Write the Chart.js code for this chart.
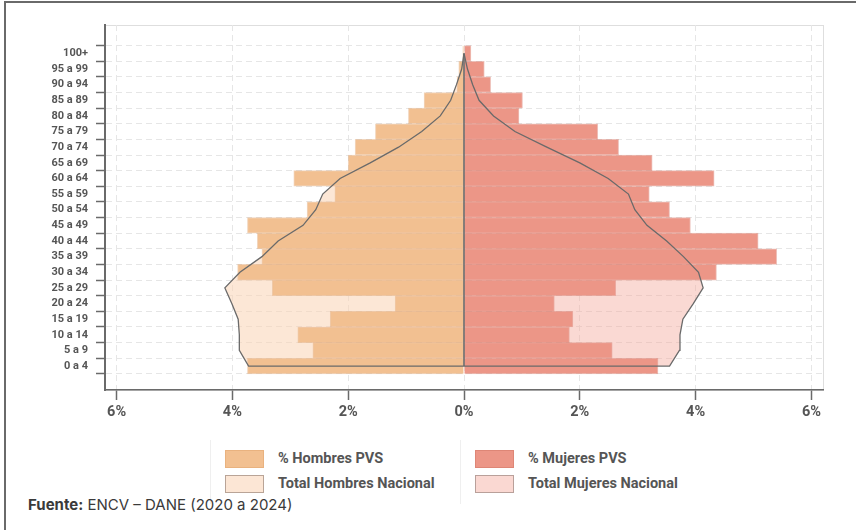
<!DOCTYPE html>
<html lang="es">
<head>
<meta charset="UTF-8">
<title>Pirámide poblacional PVS</title>
<script src="https://cdn.jsdelivr.net/npm/chart.js"></script>
<style>
  body {
    margin: 0;
    width: 856px;
    height: 530px;
    background: #fff;
    position: relative;
    overflow: hidden;
  }

  .marco {
    position: absolute;
    left: 4px;
    top: 1px;
    width: 860px;
    height: 540px;
    border-top: 2px solid #6a6a6a;
    border-left: 2px solid #6a6a6a;
  }

  #piramide {
    position: absolute;
    left: 0;
    top: 0;
  }

  .leyenda {
    position: absolute;
    font-family: 'Roboto', sans-serif;
    font-weight: bold;
    font-size: 14.5px;
    color: #555;
  }

  .item {
    position: absolute;
    white-space: nowrap;
    height: 18px;
    line-height: 18px;
  }

  .caja {
    position: absolute;
    left: 0;
    top: 0;
    width: 37px;
    height: 16px;
    border: 1px solid;
  }

  .item span {
    position: absolute;
    left: 53px;
    top: 0;
  }

  .linea-fina {
    position: absolute;
    width: 1px;
    height: 64px;
    top: 440px;
    background: #efefef;
  }

  .fuente {
    position: absolute;
    left: 28px;
    top: 496px;
    font-family: 'Inter', 'Open Sans', sans-serif;
    font-size: 15px;
    line-height: 18px;
    color: #3a3a3a;
  }
</style>
</head>
<body>
  <div class="marco"></div>
  <canvas id="piramide" width="856" height="440"></canvas>

  <div class="linea-fina" style="left: 210px;"></div>
  <div class="linea-fina" style="left: 460px;"></div>
  <div class="leyenda" id="leyenda"></div>

  <div class="fuente"><b>Fuente:</b> ENCV – DANE (2020 a 2024)</div>

<script>
  // grupos de edad, de abajo hacia arriba
  const gruposEdad = ['0 a 4', '5 a 9', '10 a 14', '15 a 19', '20 a 24', '25 a 29', '30 a 34',
    '35 a 39', '40 a 44', '45 a 49', '50 a 54', '55 a 59', '60 a 64', '65 a 69', '70 a 74',
    '75 a 79', '80 a 84', '85 a 89', '90 a 94', '95 a 99', '100+'];

  // % población PVS
  const hombresPVS = [3.74, 2.61, 2.87, 2.31, 1.19, 3.31, 3.91, 3.49, 3.57, 3.74, 2.71,
    2.23, 2.94, 2.00, 1.88, 1.53, 0.96, 0.69, 0.12, 0.09, 0.02];
  const mujeresPVS = [3.35, 2.56, 1.82, 1.88, 1.56, 2.62, 4.36, 5.40, 5.08, 3.91, 3.55,
    3.20, 4.32, 3.25, 2.67, 2.31, 0.95, 1.01, 0.46, 0.35, 0.12];

  // total nacional
  const hombresNacional = [3.72, 3.88, 3.88, 3.90, 4.01, 4.13, 3.87, 3.49, 3.21, 2.78, 2.56,
    2.44, 2.14, 1.62, 1.13, 0.73, 0.41, 0.23, 0.13, 0.04, 0.0];
  const mujeresNacional = [3.55, 3.72, 3.73, 3.78, 3.96, 4.13, 4.05, 3.79, 3.50, 3.16, 2.95,
    2.84, 2.49, 2.00, 1.43, 0.88, 0.51, 0.26, 0.15, 0.06, 0.0];

  const ticksX = [-6, -4, -2, 0, 2, 4, 6];

  const colores = {
    hombres: '#f2c091',
    mujeres: '#ec9687',
    hombresNac: 'rgba(249, 212, 180, 0.55)',
    mujeresNac: 'rgba(244, 170, 158, 0.45)',
    contorno: '#6a6a6a'
  };

  // barras: hombres a la izquierda (negativo)
  function puntosBarra(valores, signo) {
    return valores.map((v, i) => ({ x: signo * v, y: i }));
  }

  // contorno nacional, empieza sobre el eje 0 en el primer grupo
  function puntosContorno(valores, signo) {
    const pts = valores.map((v, i) => ({ x: signo * v, y: i }));
    return [{ x: 0, y: 0 }, ...pts];
  }

  // marco gris claro del área del gráfico
  const marcoArea = {
    id: 'marcoArea',
    beforeDraw(chart) {
      const { ctx, chartArea } = chart;
      ctx.save();
      ctx.strokeStyle = '#dedede';
      ctx.lineWidth = 1;
      ctx.strokeRect(chartArea.left + 0.5, chartArea.top + 0.5,
        chartArea.right - chartArea.left, chartArea.bottom - chartArea.top);
      ctx.restore();
    }
  };

  const fuenteEje = "'Roboto', sans-serif";

  const ctx = document.getElementById('piramide').getContext('2d');

  const grafico = new Chart(ctx, {
    type: 'bar',
    data: {
      datasets: [
        {
          type: 'line',
          label: 'Total Hombres Nacional',
          data: puntosContorno(hombresNacional, -1),
          borderColor: colores.contorno,
          borderWidth: 1.3,
          backgroundColor: colores.hombresNac,
          fill: 'origin',
          pointRadius: 0,
          tension: 0,
          order: 0
        },
        {
          type: 'line',
          label: 'Total Mujeres Nacional',
          data: puntosContorno(mujeresNacional, 1),
          borderColor: colores.contorno,
          borderWidth: 1.3,
          backgroundColor: colores.mujeresNac,
          fill: 'origin',
          pointRadius: 0,
          tension: 0,
          order: 0
        },
        {
          // eje central entre el primer y el último grupo
          type: 'line',
          label: 'eje',
          data: [{ x: 0, y: 0 }, { x: 0, y: gruposEdad.length - 1 }],
          borderColor: colores.contorno,
          borderWidth: 1.6,
          pointRadius: 0,
          fill: false,
          order: 0
        },
        {
          label: '% Hombres PVS',
          data: puntosBarra(hombresPVS, -1),
          backgroundColor: colores.hombres,
          borderColor: 'rgba(225, 165, 110, 0.45)',
          borderWidth: 1,
          grouped: false,
          categoryPercentage: 1,
          barPercentage: 1,
          order: 1
        },
        {
          label: '% Mujeres PVS',
          data: puntosBarra(mujeresPVS, 1),
          backgroundColor: colores.mujeres,
          borderColor: 'rgba(215, 115, 100, 0.45)',
          borderWidth: 1,
          grouped: false,
          categoryPercentage: 1,
          barPercentage: 1,
          order: 1
        }
      ]
    },
    options: {
      indexAxis: 'y',
      responsive: false,
      animation: false,
      layout: {
        padding: { top: 25, right: 33, left: 0, bottom: 0 }
      },
      scales: {
        x: {
          type: 'linear',
          min: -6.2,
          max: 6.2,
          afterFit: (escala) => { escala.height = 50; },
          afterBuildTicks: (escala) => {
            escala.ticks = ticksX.map(v => ({ value: v }));
          },
          ticks: {
            color: '#555',
            padding: 4,
            autoSkip: false,
            font: { family: fuenteEje, size: 14.5, weight: 'bold' },
            callback: (v) => Math.abs(v) + '%'
          },
          grid: {
            color: '#e6e6e6',
            tickColor: '#6a6a6a',
            tickLength: 10,
            tickWidth: 1.5
          },
          border: {
            color: '#6a6a6a',
            width: 1.5,
            dash: [6, 4]
          }
        },
        y: {
          type: 'linear',
          min: -0.975,
          max: 21.26,
          afterFit: (escala) => { escala.width = 105; },
          afterBuildTicks: (escala) => {
            escala.ticks = gruposEdad.map((g, i) => ({ value: i }));
          },
          ticks: {
            color: '#555',
            padding: 8,
            autoSkip: false,
            font: { family: fuenteEje, size: 11, weight: 'bold' },
            callback: (v) => gruposEdad[v]
          },
          grid: {
            color: '#e6e6e6',
            tickColor: '#6a6a6a',
            tickLength: 9,
            tickWidth: 1.5
          },
          border: {
            color: '#6a6a6a',
            width: 2,
            dash: [6, 4]
          }
        }
      },
      plugins: {
        legend: { display: false },
        tooltip: { enabled: false },
        filler: { drawTime: 'beforeDatasetsDraw' }
      }
    },
    plugins: [marcoArea]
  });

  // leyenda en dos columnas
  const leyendaItems = [
    { texto: '% Hombres PVS', fondo: colores.hombres, borde: '#e9b27f', x: 225, y: 450 },
    { texto: 'Total Hombres Nacional', fondo: '#fce6d5', borde: '#b9a497', x: 225, y: 475 },
    { texto: '% Mujeres PVS', fondo: colores.mujeres, borde: '#de8676', x: 475, y: 450 },
    { texto: 'Total Mujeres Nacional', fondo: '#fad8d2', borde: '#b9a09a', x: 475, y: 475 }
  ];

  const leyenda = document.getElementById('leyenda');
  leyendaItems.forEach(it => {
    const div = document.createElement('div');
    div.className = 'item';
    div.style.left = it.x + 'px';
    div.style.top = it.y + 'px';
    div.innerHTML = '<div class="caja" style="background:' + it.fondo + ';border-color:' + it.borde +
      '"></div><span>' + it.texto + '</span>';
    leyenda.appendChild(div);
  });
</script>
</body>
</html>
